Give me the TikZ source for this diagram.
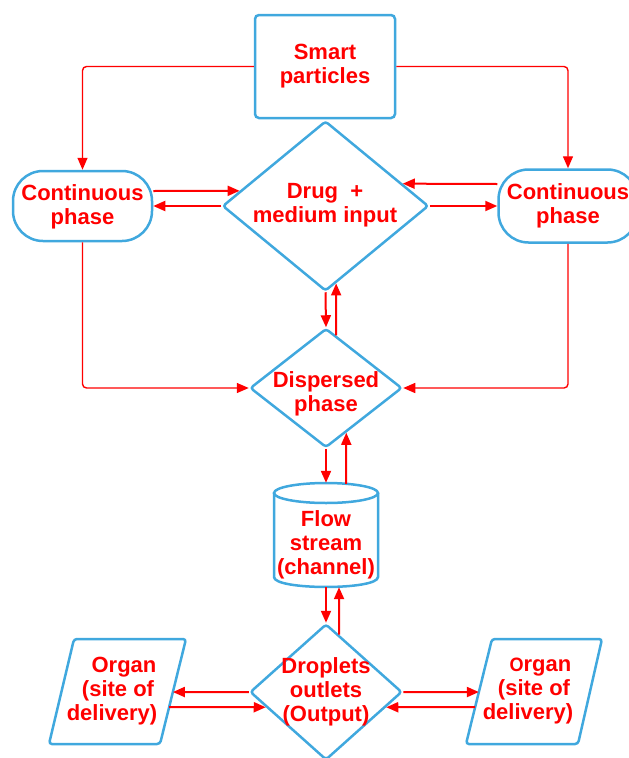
\documentclass[tikz,border=0pt]{standalone}
\usepackage{fontspec}
\usepackage{graphicx}
\setmainfont{Liberation Sans}
\usetikzlibrary{shapes.geometric,arrows.meta,calc}
\definecolor{bord}{RGB}{64,168,222}
\definecolor{lab}{RGB}{255,0,0}
\begin{document}
\begin{tikzpicture}[x=1pt,y=-1pt,
  box/.style={draw=bord,line width=2.5pt,inner sep=0pt},
  dia/.style={box,diamond,rounded corners=3pt},
  txt/.style={text=lab,font=\bfseries\fontsize{22}{24}\selectfont,align=center,inner sep=0pt},
  con/.style={draw=lab,line width=2pt,-{Triangle[length=12pt,width=10pt]}},
  route/.style={con,line width=1.4pt,rounded corners=4pt}]
\useasboundingbox (0,0) rectangle (629,758);

% shapes
\node[box,rounded corners=4pt,minimum width=140pt,minimum height=103pt] (smart) at (325,66.5) {};
\node[txt] (smartt) at (325,66) {Smart\\particles};

\node[dia,minimum width=206pt,minimum height=170pt] (drug) at (325.5,206) {};
\node[txt] (drugt) at (325,205) {Drug\hspace{0.55em}+\\medium input};

\node[box,rounded corners=30pt,minimum width=139pt,minimum height=70pt] (cpl) at (82.5,206) {};
\node[txt] (cplt) at (82.5,207) {Continuous\\phase};

\node[box,rounded corners=30pt,minimum width=139pt,minimum height=73pt] (cpr) at (568,206) {};
\node[txt] (cprt) at (568,206) {Continuous\\phase};

\node[dia,minimum width=152pt,minimum height=119pt] (disp) at (326,388) {};
\node[txt] (dispt) at (326,393.5) {Dispersed\\phase};

% cylinder
\node[minimum width=104pt,minimum height=104pt,inner sep=0pt] (flow) at (326,535) {};
\draw[draw=bord,line width=2.5pt] (326,493) ellipse [x radius=52pt,y radius=10pt];
\draw[draw=bord,line width=2.5pt] (274,493) -- (274,577) .. controls (274,590.3) and (378,590.3) .. (378,577) -- (378,493);
\node[txt] (flowt) at (326,545) {Flow\\stream\\(channel)};

\node[dia,minimum width=152pt,minimum height=136pt] (drop) at (326,692) {};
\node[txt] (dropt) at (326,692) {Droplets\\outlets\\(Output)};

% organs
\draw[box,rounded corners=3pt] (74,639) coordinate (oltl) -- (186,639) coordinate (oltr)
  -- (160,744) coordinate (olbr) -- (49,744) coordinate (olbl) -- cycle;
\node[txt] (orglt) at (118,691) {\hspace*{12pt}Organ\\(site of\\delivery)\hspace*{12pt}};
\draw[box,rounded corners=3pt] (492,639) coordinate (ortl) -- (602,639) coordinate (ortr)
  -- (578,744) coordinate (orbr) -- (466,744) coordinate (orbl) -- cycle;
\node[txt] (orgrt) at (534,691) {\hspace*{13pt}\scalebox{0.82}[0.88]{O}rgan\\(site of\\delivery)\hspace*{12pt}};

% routed connectors
\draw[route] (smart.west) -| (cpl.north);
\draw[route] (smart.east) -| (cpr.north);
\draw[route] (cpl.south) |- (disp.west);
\draw[route] (cpr.south) |- (disp.east);

% continuous phase <-> drug
\draw[con] ($(cpl.east)+(0,-15)$) -- ($(drug.west)!0.176!(drug.north)$);
\draw[con] (drug.west) -- (cpl.east);
\draw[con] ($(cpr.west)+(0,-22)$) -- ($(drug.east)!0.259!(drug.north)$);
\draw[con] (drug.east) -- (cpr.west);

% drug <-> dispersed
\draw[con] (drug.south) -- (disp.north);
\draw[con] ($(disp.north)!0.132!(disp.east)$) -- ($(drug.south)!0.102!(drug.east)$);

% dispersed <-> flow
\draw[con] (disp.south) -- (flow.north);
\draw[con] ($(flow.north)+(20,1)$) -- ($(disp.south)!0.263!(disp.east)$);

% flow <-> droplets
\draw[con] (flow.south) -- (drop.north);
\draw[con] ($(drop.north)!0.171!(drop.east)$) -- ($(flow.south)+(13,0)$);

% droplets <-> organs
\draw[con] (drop.west) -- ($(oltr)!0.505!(olbr)$);
\draw[con] ($(oltr)!0.648!(olbr)$) -- ($(drop.west)!0.22!(drop.south)$);
\draw[con] (drop.east) -- ($(ortl)!0.505!(orbl)$);
\draw[con] ($(ortl)!0.648!(orbl)$) -- ($(drop.east)!0.22!(drop.south)$);
\end{tikzpicture}
\end{document}
